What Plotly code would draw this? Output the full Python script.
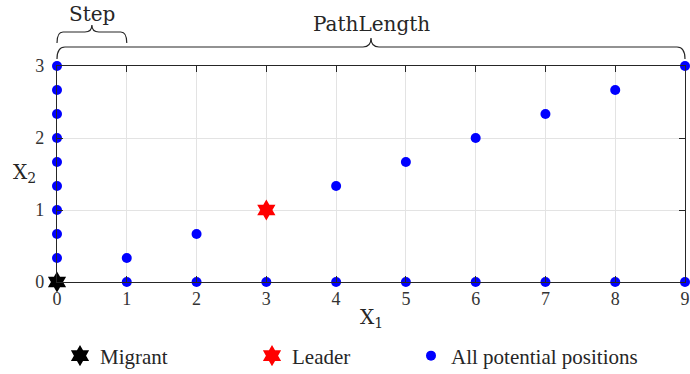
import plotly.graph_objects as go

# ---- data ----
all_x = [0, 1, 2, 3, 4, 5, 6, 7, 8, 9,
         0, 0, 0, 0, 0, 0, 0, 0, 0, 0,
         1, 2, 3, 4, 5, 6, 7, 8, 9]
all_y = [0, 0, 0, 0, 0, 0, 0, 0, 0, 0,
         0, 0.333, 0.667, 1, 1.333, 1.667, 2, 2.333, 2.667, 3,
         0.333, 0.667, 1, 1.333, 1.667, 2, 2.333, 2.667, 3]
leader_x = [3]
leader_y = [1]
migrant_x = [0]
migrant_y = [0]
x_ticks = [0, 1, 2, 3, 4, 5, 6, 7, 8, 9]
y_ticks = [0, 1, 2, 3]
step_span = [0, 1]
path_span = [0, 9]

FONT_TICK = "serif"
FONT_LEG = "Liberation Serif"
FONT_ANN = "DejaVu Serif"
W, H = 690, 374
L, R, T, B = 57, 5, 66, 92
PW, PH = W - L - R, H - T - B
XMAX = 9


def px_to_paper_y(py):
    return (H - B - py) / PH


def brace_path(x0, x1, y_line, y_end, y_peak, r_end, r_mid):
    def X(px):
        return (px - L) / PW
    def Y(py):
        return px_to_paper_y(py)
    p0 = L + x0 / XMAX * PW
    p1 = L + x1 / XMAX * PW
    pm = (p0 + p1) / 2
    pts = [
        f"M {X(p0)},{Y(y_end)}",
        f"Q {X(p0)},{Y(y_line)} {X(p0 + r_end)},{Y(y_line)}",
        f"L {X(pm - r_mid)},{Y(y_line)}",
        f"Q {X(pm)},{Y(y_line)} {X(pm)},{Y(y_peak)}",
        f"Q {X(pm)},{Y(y_line)} {X(pm + r_mid)},{Y(y_line)}",
        f"L {X(p1 - r_end)},{Y(y_line)}",
        f"Q {X(p1)},{Y(y_line)} {X(p1)},{Y(y_end)}",
    ]
    return " ".join(pts)


fig = go.Figure()
fig.add_trace(go.Scatter(
    x=all_x, y=all_y, mode="markers", name="All potential positions",
    marker=dict(color="#0000ff", size=10, symbol="circle"),
    cliponaxis=False, legend="legend3", showlegend=True))
fig.add_trace(go.Scatter(
    x=leader_x, y=leader_y, mode="markers", name="Leader",
    marker=dict(color="#ff0000", size=16, symbol="hexagram"),
    cliponaxis=False, legend="legend2", showlegend=True))
fig.add_trace(go.Scatter(
    x=migrant_x, y=migrant_y, mode="markers", name="Migrant",
    marker=dict(color="#000000", size=16, symbol="hexagram"),
    cliponaxis=False, legend="legend", showlegend=True))

axis_common = dict(
    showgrid=True, gridcolor="#e3e3e3", gridwidth=1,
    showline=True, linecolor="#262626", linewidth=1.3, mirror="ticks",
    ticks="inside", ticklen=6, tickcolor="#262626", tickwidth=1,
    zeroline=False, tickfont=dict(family=FONT_TICK, size=18, color="#333333"),
)
fig.update_xaxes(range=[0, 9], tickvals=x_ticks, ticklabeloverflow="allow", **axis_common)
fig.update_yaxes(range=[0, 3], tickvals=y_ticks, ticklabelstandoff=8, **axis_common)

legend_common = dict(orientation="h", yanchor="middle", xanchor="left",
                     font=dict(family=FONT_LEG, size=21, color="#262626"),
                     bgcolor="rgba(0,0,0,0)", borderwidth=0, visible=True)
fig.update_layout(
    width=W, height=H,
    showlegend=True,
    margin=dict(l=L, r=R, t=T, b=B, autoexpand=False),
    plot_bgcolor="white", paper_bgcolor="white",
    font=dict(family="Lato", size=21, color="#262626"),
    legend=dict(x=(60 - L) / PW, y=px_to_paper_y(356), **legend_common),
    legend2=dict(x=(252 - L) / PW, y=px_to_paper_y(356), **legend_common),
    legend3=dict(x=(411 - L) / PW, y=px_to_paper_y(356), **legend_common),
    shapes=[
        dict(type="path", xref="paper", yref="paper",
             path=brace_path(step_span[0], step_span[1], 32, 43, 25, 6, 7),
             line=dict(color="#262626", width=1.2)),
        dict(type="path", xref="paper", yref="paper",
             path=brace_path(path_span[0], path_span[1], 47, 59, 38, 8, 8),
             line=dict(color="#262626", width=1.2)),
    ],
    annotations=[
        dict(text="Step", x=(step_span[0] + step_span[1]) / 2, xref="x",
             y=px_to_paper_y(14), yref="paper", showarrow=False,
             xanchor="center", yanchor="middle",
             font=dict(family=FONT_ANN, size=20, color="#262626")),
        dict(text="PathLength", x=(path_span[0] + path_span[1]) / 2, xref="x",
             y=px_to_paper_y(24), yref="paper", showarrow=False,
             xanchor="center", yanchor="middle",
             font=dict(family=FONT_ANN, size=20, color="#262626")),
        dict(text="X<sub>1</sub>", x=4.5, xref="x",
             y=px_to_paper_y(318), yref="paper", showarrow=False,
             xanchor="center", yanchor="middle",
             font=dict(family=FONT_ANN, size=20, color="#262626")),
        dict(text="X<sub>2</sub>", x=(24 - L) / PW, xref="paper",
             y=px_to_paper_y(173), yref="paper", showarrow=False,
             xanchor="center", yanchor="middle",
             font=dict(family=FONT_ANN, size=20, color="#262626")),
    ],
)

fig.write_html("out.html")
